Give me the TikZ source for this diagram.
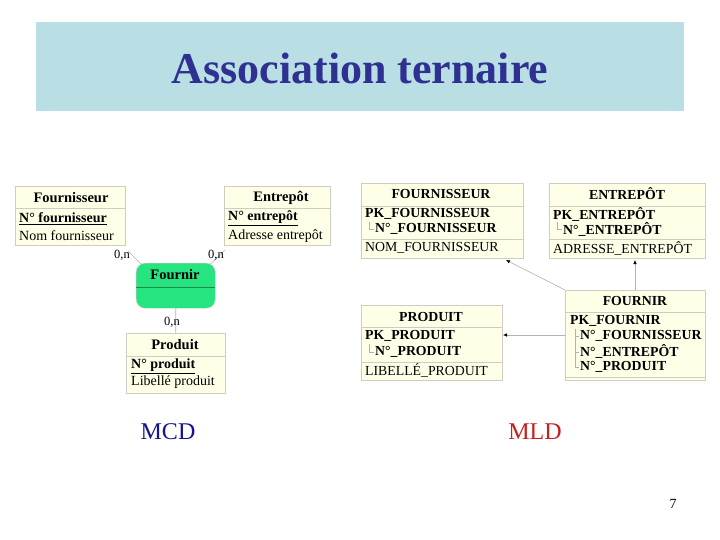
\documentclass[tikz,border=0pt]{standalone}
\usepackage{fontspec}
\setmainfont{Liberation Serif}
\usetikzlibrary{arrows.meta}
\definecolor{titlebg}{RGB}{185,223,228}
\definecolor{titlefg}{RGB}{46,49,146}
\definecolor{cream}{RGB}{255,255,232}
\definecolor{assoc}{RGB}{38,228,128}
\definecolor{edge}{RGB}{205,205,195}
\definecolor{mcdc}{RGB}{20,20,140}
\definecolor{mldc}{RGB}{200,30,30}
\begin{document}
\begin{tikzpicture}[x=1pt,y=-1pt,
  tbl/.style={draw=edge, fill=cream, anchor=north west, inner sep=0pt, line width=0.6pt},
  hd/.style={font=\fontsize{14.5}{16}\selectfont\bfseries, inner sep=0pt},
  attr/.style={font=\fontsize{14}{16}\selectfont, anchor=west, inner sep=0pt},
  mh/.style={font=\fontsize{13.8}{16}\selectfont\bfseries, inner sep=0pt},
  mb/.style={font=\fontsize{13.8}{16}\selectfont\bfseries, anchor=west, inner sep=0pt},
  mr/.style={font=\fontsize{13.8}{16}\selectfont, anchor=west, inner sep=0pt},
  sep/.style={draw=edge, line width=0.6pt},
  card/.style={font=\fontsize{12.5}{14}\selectfont, inner sep=0pt},
  lnk/.style={draw=gray!60, line width=0.6pt},
  fk/.style={draw=gray!60, line width=0.6pt, -{Latex[length=4pt,width=3.5pt,color=black]}}
]
\useasboundingbox (0,0) rectangle (720,540);
% title
\node[fill=titlebg, minimum width=648pt, minimum height=89pt, inner sep=0pt, anchor=north west] (tb) at (36,22) {};
\node[text=titlefg, font=\fontsize{44}{50}\selectfont\bfseries, inner sep=0pt] (title) at (360,68) {Association ternaire};

% ---------- MCD ----------
\node[tbl, minimum width=110pt, minimum height=59pt] (fo) at (15,186) {};
\node[hd] (foh) at (71,198) {Fournisseur};
\draw[sep] (15,208) -- (125,208);
\node[attr] (fo1) at (19,218.5) {\textbf{\underline{N° fournisseur}}};
\node[attr] (fo2) at (19,236) {Nom fournisseur};

\node[tbl, minimum width=106pt, minimum height=59pt] (en) at (224,186) {};
\node[hd] (enh) at (281,198) {Entrepôt};
\draw[sep] (224,208) -- (330,208);
\node[attr] (en1) at (228,218.5) {\textbf{\underline{N° entrepôt}}};
\node[attr] (en2) at (228,236) {Adresse entrepôt};

\node[draw=edge, fill=assoc, rounded corners=9pt, minimum width=79pt, minimum height=45pt, anchor=north west, inner sep=0pt] (fr) at (136,263) {};
\node[hd] (frh) at (175,275) {Fournir};
\draw[line width=0.6pt, draw=assoc!60!black] (136,287) -- (215,287);

\node[tbl, minimum width=99pt, minimum height=60pt] (pr) at (126,333) {};
\node[hd] (prh) at (175,345) {Produit};
\draw[sep] (126,356) -- (225,356);
\node[attr] (pr1) at (131,366) {\textbf{\underline{N° produit}}};
\node[attr] (pr2) at (131,382.5) {Libellé produit};

\coordinate (c1) at (128,251);
\coordinate (c2) at (225,250);
\draw[lnk] (c1) -- ([xshift=6pt,yshift=-2pt]fr.north west);
\draw[lnk] (c2) -- ([xshift=-6pt,yshift=-2pt]fr.north east);
\draw[lnk] (fr.south) -- (pr.north);
\node[card] (k1) at (122,255) {0,n};
\node[card] (k2) at (216,255) {0,n};
\node[card] (k3) at (172,322) {0,n};

% ---------- MLD ----------
\node[tbl, minimum width=162pt, minimum height=75pt] (F) at (361,183) {};
\node[mh] (Fh) at (441,194) {FOURNISSEUR};
\draw[sep] (361,206) -- (523,206);
\node[mb] (F1) at (365,214) {PK\_FOURNISSEUR};
\draw[sep, draw=gray!60] (369,222) |- (374,229);
\node[mb] (F2) at (375,229) {N°\_FOURNISSEUR};
\draw[sep] (361,239) -- (523,239);
\node[mr] (F3) at (365,248) {NOM\_FOURNISSEUR};

\node[tbl, minimum width=156pt, minimum height=75pt] (E) at (549,183) {};
\node[mh] (Eh) at (627,194) {ENTREPÔT};
\draw[sep] (549,206) -- (705,206);
\node[mb] (E1) at (553,214) {PK\_ENTREPÔT};
\draw[sep, draw=gray!60] (557,222) |- (562,229);
\node[mb] (E2) at (563,229) {N°\_ENTREPÔT};
\draw[sep] (549,239) -- (705,239);
\node[mr] (E3) at (553,248) {ADRESSE\_ENTREPÔT};

\node[tbl, minimum width=141pt, minimum height=75pt] (P) at (361,305) {};
\node[mh] (Ph) at (431,317) {PRODUIT};
\draw[sep] (361,327) -- (502,327);
\node[mb] (P1) at (365,336) {PK\_PRODUIT};
\draw[sep, draw=gray!60] (369,344) |- (374,352);
\node[mb] (P2) at (375,352) {N°\_PRODUIT};
\draw[sep] (361,362) -- (502,362);
\node[mr] (P3) at (365,370) {LIBELLÉ\_PRODUIT};

\node[tbl, minimum width=140pt, minimum height=90pt] (R) at (565,290) {};
\node[mh] (Rh) at (635,301) {FOURNIR};
\draw[sep] (565,312) -- (705,312);
\node[mb] (R1) at (570,321) {PK\_FOURNIR};
\draw[sep, draw=gray!60] (575,329) -- (575,367);
\draw[sep, draw=gray!60] (575,336) -- (579,336);
\draw[sep, draw=gray!60] (575,352) -- (579,352);
\draw[sep, draw=gray!60] (575,367) -- (579,367);
\node[mb] (R2) at (580,336) {N°\_FOURNISSEUR};
\node[mb] (R3) at (580,351.5) {N°\_ENTREPÔT};
\node[mb] (R4) at (580,367) {N°\_PRODUIT};
\draw[sep] (565,377) -- (705,377);

\coordinate (a1) at (506,260);
\coordinate (a2) at (635,260);
\coordinate (a3) at (503,335);
\draw[fk] (R.north west) -- (a1);
\draw[fk] (R.north -| a2) -- (a2);
\draw[fk] (R.west |- a3) -- (a3);

% labels
\node[text=mcdc, font=\fontsize{24}{28}\selectfont, inner sep=0pt] (mcd) at (168,432) {MCD};
\node[text=mldc, font=\fontsize{24}{28}\selectfont, inner sep=0pt] (mld) at (535,432) {MLD};
\node[font=\fontsize{14}{16}\selectfont, inner sep=0pt] (pg) at (673,504) {7};
\end{tikzpicture}
\end{document}
